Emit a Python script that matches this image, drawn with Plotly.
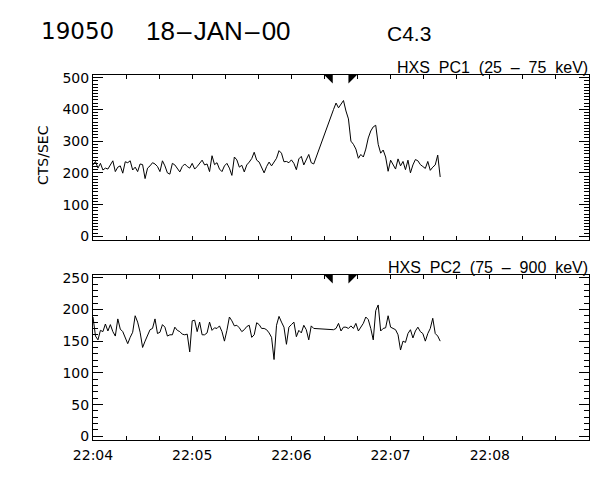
import plotly.graph_objects as go

# ---------------- data ----------------
cadence_s = 1.5                 # sample spacing (s)
base_time = "22:04:00"          # left edge of the time axis
seg1_start = "22:04:00"         # first sample before data gap
seg2_start = "22:06:25.5"       # first sample after data gap

pc1_before_gap = [
    225, 236, 215, 230, 209, 215, 212, 225, 238, 204,
    218, 222, 199, 235, 232, 238, 209, 218, 204, 228,
    226, 182, 215, 222, 232, 228, 220, 204, 238, 222,
    200, 196, 230, 225, 215, 203, 220, 228, 220, 215,
    230, 212, 220, 230, 240,
    225, 228, 204, 254, 226, 232, 212, 204, 222, 230,
    215, 192, 250, 241, 218, 224, 203, 225, 234, 245,
    265, 240, 234, 218, 200, 220, 234, 222, 236, 246,
    270, 262, 235, 236, 232, 241, 230, 210, 244, 252,
    225, 240, 258, 232, 228,
]
pc1_after_gap = [
    400, 420, 405, 418, 428, 395, 370, 300, 290, 275,
    246, 258, 250, 275, 310, 332, 345, 350, 290, 262,
    272, 250, 205, 240, 228, 212, 244, 222, 236, 210,
    240, 200, 225, 242, 238, 226, 220, 214, 236, 208,
    218, 225, 256, 187,
]
pc2_before_gap = [
    188, 158, 152, 167, 165, 177, 166, 176, 165, 158,
    185, 169, 165, 156, 146, 156, 164, 190, 180, 164,
    140, 150, 160, 168, 170, 185, 162, 164, 176, 172,
    158, 160, 160, 172, 167, 165, 161, 160, 161, 133,
    182, 183, 165, 180, 160,
    160, 163, 180, 167, 171, 170, 174, 165, 150, 167,
    188, 182, 174, 175, 171, 165, 168, 173, 175, 156,
    160, 179, 176, 170, 170, 168, 163, 156, 121, 175,
    189, 180, 172, 145, 172, 176, 180, 157, 167, 163,
    175, 168, 152, 174, 170,
]
pc2_after_gap = [
    168, 170, 178, 166, 172, 172, 170, 174, 170, 178,
    166, 172, 178, 188, 184, 170, 152, 198, 207, 166,
    170, 171, 190, 172, 170, 168, 160, 136, 150, 148,
    162, 168, 155, 166, 172, 165, 162, 150, 162, 170,
    186, 162, 158, 150,
]

x_tick_labels = ["22:04", "22:05", "22:06", "22:07", "22:08"]
x_axis_end = "22:09:00"
marker_times = ["22:06:25", "22:06:34.5"]   # black triangles on panel tops

title_id = "19050"
title_date = "18\u200a\u2013\u200aJAN\u200a\u2013\u200a00"
title_class = "C4.3"
panel_labels = ["HXS\u00a0\u00a0PC1\u00a0\u00a0(25\u00a0\u00a0\u2013\u00a0\u00a075\u00a0\u00a0keV)",
                "HXS\u00a0\u00a0PC2\u00a0\u00a0(75\u00a0\u00a0\u2013\u00a0\u00a0900\u00a0\u00a0keV)"]
y_title = "CTS/SEC"


# ---------------- helpers ----------------
def to_sec(s):
    parts = s.split(":")
    h, m = int(parts[0]), int(parts[1])
    sec = float(parts[2]) if len(parts) > 2 else 0.0
    return h * 3600 + m * 60 + sec


t0 = to_sec(base_time)


def rel(s):
    return to_sec(s) - t0


def times(start, n):
    s = rel(start)
    return [s + i * cadence_s for i in range(n)]


t_all = times(seg1_start, len(pc1_before_gap)) + times(seg2_start, len(pc1_after_gap))
pc1 = pc1_before_gap + pc1_after_gap
pc2 = pc2_before_gap + pc2_after_gap

tickvals = [rel(l) for l in x_tick_labels]

W, H = 600, 480
x0px, x1px = 93, 589
top_px = (74.5, 239.5)
bot_px = (274.5, 439.5)


def ydom(p):
    return [1 - p[1] / H, 1 - p[0] / H]


fig = go.Figure()
fig.add_trace(go.Scatter(x=t_all, y=pc1, mode="lines",
                         line=dict(color="black", width=1), xaxis="x", yaxis="y"))
fig.add_trace(go.Scatter(x=t_all, y=pc2, mode="lines",
                         line=dict(color="black", width=1), xaxis="x2", yaxis="y2"))

tickfont = dict(family="DejaVu Sans", size=14, color="black")

common_x = dict(
    domain=[x0px / W, x1px / W], range=[0, rel(x_axis_end)],
    tickmode="array", tickvals=tickvals, ticktext=x_tick_labels,
    ticks="inside", ticklen=4, tickcolor="black", tickwidth=1,
    showline=True, linecolor="black", linewidth=1, mirror="ticks",
    showgrid=False, zeroline=False, tickfont=tickfont, automargin=False,
    minor=dict(tickmode="linear", tick0=0, dtick=20, ticks="inside",
               ticklen=4, tickcolor="black", tickwidth=1, showgrid=False),
)
common_y = dict(
    ticks="inside", ticklen=10, tickcolor="black", tickwidth=1,
    showline=True, linecolor="black", linewidth=1, mirror="ticks",
    showgrid=False, zeroline=False, tickfont=tickfont, tick0=0, automargin=False,
)

fig.update_layout(
    width=W, height=H, autosize=False,
    margin=dict(l=0, r=0, t=0, b=0, pad=0),
    paper_bgcolor="white", plot_bgcolor="white",
    showlegend=False,
    xaxis=dict(anchor="y", showticklabels=False, **common_x),
    xaxis2=dict(anchor="y2", showticklabels=True, matches="x",
                ticklabelstandoff=3, **common_x),
    yaxis=dict(anchor="x", domain=ydom(top_px), range=[-10, 510], dtick=100,
               minor=dict(dtick=10, ticks="inside", ticklen=5, tickcolor="black",
                          tickwidth=1, showgrid=False),
               **common_y),
    yaxis2=dict(anchor="x2", domain=ydom(bot_px), range=[-5, 255], dtick=50,
                minor=dict(dtick=10, ticks="inside", ticklen=5, tickcolor="black",
                           tickwidth=1, showgrid=False),
                **common_y),
)

# triangles marking times at the top of each panel
tri_w = 9 / ((x1px - x0px) / rel(x_axis_end))   # 9 px in seconds
for yref, p in (("y domain", top_px), ("y2 domain", bot_px)):
    h = 9 / (p[1] - p[0])
    a = rel(marker_times[0])
    b = rel(marker_times[1])
    fig.add_shape(type="path", xref="x", yref=yref,
                  path=f"M {a - tri_w},1 L {a},1 L {a},{1 - h} Z",
                  fillcolor="black", line=dict(color="black", width=0))
    fig.add_shape(type="path", xref="x", yref=yref,
                  path=f"M {b},1 L {b + tri_w},1 L {b},{1 - h} Z",
                  fillcolor="black", line=dict(color="black", width=0))

ann = []
ann.append(dict(text=title_id, x=40 / W, y=1 - 31 / H, xanchor="left", yanchor="middle",
                font=dict(family="DejaVu Sans", size=23, color="black")))
ann.append(dict(text=title_date, x=145 / W, y=1 - 31 / H, xanchor="left", yanchor="middle",
                font=dict(family="Liberation Sans", size=26, color="black")))
ann.append(dict(text=title_class, x=386 / W, y=1 - 34 / H, xanchor="left", yanchor="middle",
                font=dict(family="Liberation Sans", size=21, color="black")))
ann.append(dict(text=panel_labels[0], x=x1px / W, y=1 - 67 / H, xanchor="right", yanchor="middle",
                font=dict(family="Liberation Sans", size=16, color="black")))
ann.append(dict(text=panel_labels[1], x=x1px / W, y=1 - 267 / H, xanchor="right", yanchor="middle",
                font=dict(family="Liberation Sans", size=16, color="black")))
ann.append(dict(text=y_title, x=43 / W, y=1 - 155 / H, xanchor="center", yanchor="middle",
                textangle=-90, font=dict(family="DejaVu Sans", size=14, color="black")))
for a in ann:
    a.update(xref="paper", yref="paper", showarrow=False, borderpad=0)
fig.update_layout(annotations=ann)

fig.write_html(
    "out.html",
    config={"displayModeBar": False, "staticPlot": True},
    post_script="document.body.style.margin='0';document.body.style.overflow='hidden';",
)
